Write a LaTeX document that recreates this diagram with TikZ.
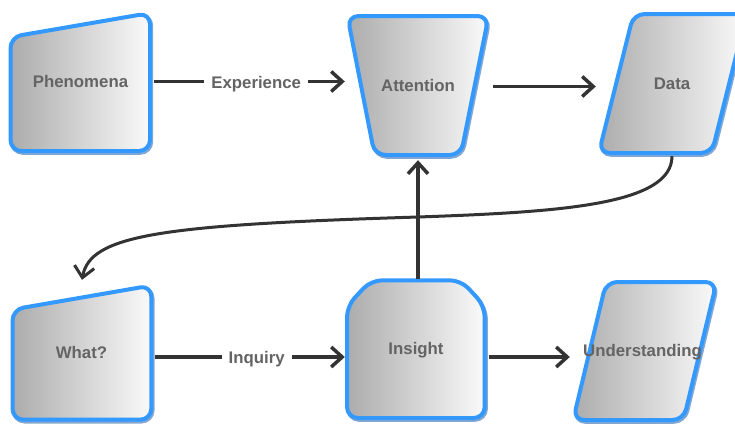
\documentclass[tikz,border=0pt]{standalone}
\usepackage{fontspec}
\setmainfont{Liberation Sans}
\usetikzlibrary{arrows.meta}

\definecolor{edgeblue}{RGB}{51,153,255}
\definecolor{shadowblue}{RGB}{30,95,170}
\definecolor{shadeL}{RGB}{172,172,172}
\definecolor{shadeR}{RGB}{250,250,250}
\definecolor{inkgray}{RGB}{100,100,100}
\definecolor{linkgray}{RGB}{51,51,51}

\tikzset{
  shapebody/.style={draw=edgeblue, line width=4pt, rounded corners=11pt,
    left color=shadeL, right color=shadeR},
  shapeshadow/.style={draw=shadowblue, line width=4pt, rounded corners=11pt, opacity=0.55},
  caption/.style={font=\bfseries\fontsize{16.8}{19}\selectfont, text=inkgray,
    inner sep=0pt, align=center},
  link/.style={draw=linkgray, line width=3.5pt,
    -{Straight Barb[length=11pt,width=20pt]}},
  linklabel/.style={font=\bfseries\fontsize{16.8}{19}\selectfont, text=inkgray,
    fill=white, inner xsep=7pt, inner ysep=2pt}
}

% outline with a soft drop shadow, then the shaded body
\newcommand\flowshape[1]{%
  \draw[shapeshadow, shift={(1.2,1.8)}] #1;
  \draw[shapebody] #1;}

\begin{document}
\begin{tikzpicture}[x=1pt, y=-1pt]
\useasboundingbox (0,0) rectangle (735,424);
\clip (0,0) rectangle (735,424);

% --- shapes ---
% Phenomena: manual input
\flowshape{(80.5,151) -- (10.5,151) -- (10.5,37) -- (150,13) -- (150,151) -- cycle}
% Attention: trapezoid, wide side up
\flowshape{(418,16) -- (488.6,16) -- (460.8,155) -- (374.6,155) -- (347.4,16) -- cycle}
% Data: parallelogram
\flowshape{(680,14) -- (746.5,14) -- (711.8,153) -- (598.8,153) -- (633.5,14) -- cycle}
% What?: manual input
\flowshape{(81.5,419.7) -- (12.5,419.7) -- (12.5,309.5) -- (151.3,285.5) -- (151.3,419.7) -- cycle}
% Insight: chamfered top corners
\flowshape{(416,418) -- (347,418) -- (347,306) -- (371,280.3) -- (461,280.3) -- (484.7,306) -- (484.7,418) -- cycle}
% Understanding: parallelogram
\flowshape{(660,282) -- (716.6,282) -- (683.5,420) -- (573.1,420) -- (606.2,282) -- cycle}

% --- captions (boxes span each shape) ---
\node[caption, minimum width=143pt, minimum height=141pt] (phen) at (80.5,81.5) {Phenomena};
\node[caption, minimum width=146pt, minimum height=143pt] (att)  at (418,85.5) {Attention};
\node[caption, minimum width=152pt, minimum height=143pt] (data) at (672,83.5) {Data};
\node[caption, minimum width=143pt, minimum height=139pt] (what) at (81.5,352.5) {What?};
\node[caption, minimum width=142pt, minimum height=142pt] (ins)  at (416,350.5) {Insight};
\node[caption, minimum width=145pt, minimum height=142pt] (und)  at (642.5,352) {Understanding};

% --- connectors ---
\draw[link, shorten <=2pt] (phen.east) --
  node[linklabel, pos=0.54, yshift=-3pt] (lblexp) {Experience} (phen.east -| att.west);
\draw[link, shorten <=2pt] ([yshift=-1pt]att.east) -- ([yshift=-1pt]att.east -| data.west);
\coordinate (bend) at (418,217);
\draw[link, line width=3pt, shorten <=1pt, shorten >=3pt] (data.south)
  .. controls (672,205) and (560,212) .. (bend)
  .. controls (160,225) and (90,235) .. (what.north);
\draw[link, shorten >=3pt] (att.south |- ins.north) -- (att.south);
\draw[link, shorten <=2pt] ([yshift=-4.5pt]what.east) --
  node[linklabel, pos=0.54, yshift=-2pt] (lblinq) {Inquiry} ([yshift=-4.5pt]what.east -| ins.west);
\draw[link, shorten <=2pt] ([yshift=-6.5pt]ins.east) -- ([yshift=-6.5pt]ins.east -| und.west);
\end{tikzpicture}
\end{document}
